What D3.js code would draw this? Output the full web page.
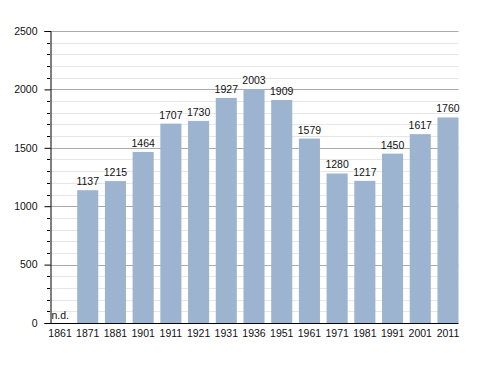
<!DOCTYPE html>
<html>
<head>
<meta charset="utf-8">
<script src="https://cdn.jsdelivr.net/npm/d3@7"></script>
<style>
  body { margin: 0; background: #fff; }
  text { font-family: "Liberation Sans", Arial, sans-serif; fill: #111; }
</style>
</head>
<body>
<div id="chart"></div>
<script>
var years = ["1861", "1871", "1881", "1901", "1911", "1921", "1931", "1936",
             "1951", "1961", "1971", "1981", "1991", "2001", "2011"];
var population = [null, 1137, 1215, 1464, 1707, 1730, 1927, 2003,
                  1909, 1579, 1280, 1217, 1450, 1617, 1760];
var yTicks = [0, 500, 1000, 1500, 2000, 2500];

var w = 488, h = 373;
var margin = {top: 31, right: 30, bottom: 50, left: 50};
var plotRight = 458.5;

var svg = d3.select("#chart").append("svg")
  .attr("width", w)
  .attr("height", h);

var data = years.map((y, i) => ({year: y, value: population[i]}));

var xScale = d3.scaleBand()
  .domain(years)
  .range([49.5, plotRight])
  .paddingInner(0.24)
  .paddingOuter(0);

var yScale = d3.scaleLinear()
  .domain([0, 2500])
  .range([h - margin.bottom, margin.top]);

// grid: minor every 100, major every 500
var minor = d3.range(100, 2501, 100).filter(v => v % 500 != 0);
svg.append("g").selectAll("line")
  .data(minor)
  .enter().append("line")
    .attr("x1", margin.left).attr("x2", plotRight)
    .attr("y1", d => Math.round(yScale(d)) + 0.5).attr("y2", d => Math.round(yScale(d)) + 0.5)
    .attr("stroke", "#e6e6e6");
svg.append("g").selectAll("line")
  .data(yTicks.slice(1))
  .enter().append("line")
    .attr("x1", margin.left).attr("x2", plotRight)
    .attr("y1", d => Math.round(yScale(d)) + 0.5).attr("y2", d => Math.round(yScale(d)) + 0.5)
    .attr("stroke", "#aaaaaa");

// bars
var bars = data.filter(d => d.value != null);
svg.append("g").selectAll("rect")
  .data(bars)
  .enter().append("rect")
    .attr("x", d => xScale(d.year))
    .attr("y", d => yScale(d.value))
    .attr("width", xScale.bandwidth())
    .attr("height", d => yScale(0) - yScale(d.value))
    .attr("fill", "#9cb4cf");

// value labels
svg.append("g").selectAll("text")
  .data(data)
  .enter().append("text")
    .attr("x", d => d.value == null ? xScale(d.year) + 2 : xScale(d.year) + xScale.bandwidth() / 2)
    .attr("y", d => d.value == null ? yScale(0) - 4 : yScale(d.value) - 5)
    .attr("text-anchor", d => d.value == null ? "start" : "middle")
    .style("font-size", "10.5px")
    .text(d => d.value == null ? "n.d." : d.value);

// y axis
var yAxis = svg.append("g")
  .attr("transform", `translate(${margin.left + 0.5},0)`)
  .call(d3.axisLeft(yScale).tickValues(yTicks).tickFormat(d3.format("d")).tickSize(6).tickPadding(7));
yAxis.select(".domain").attr("stroke", "#000");
yAxis.selectAll(".tick text").style("font-size", "10.5px").attr("fill", "#111");
svg.append("g").selectAll("line")
  .data(minor)
  .enter().append("line")
    .attr("x1", margin.left - 3).attr("x2", margin.left)
    .attr("y1", d => Math.round(yScale(d)) + 0.5).attr("y2", d => Math.round(yScale(d)) + 0.5)
    .attr("stroke", "#000");

// x axis
var xAxis = svg.append("g")
  .attr("transform", `translate(0,${h - margin.bottom + 0.5})`)
  .call(d3.axisBottom(xScale).tickSize(0).tickPadding(6));
xAxis.select(".domain").attr("stroke", "#000").attr("d", `M${margin.left},0H${plotRight}`);
xAxis.selectAll(".tick text").style("font-size", "10.5px").attr("fill", "#111");
</script>
</body>
</html>
